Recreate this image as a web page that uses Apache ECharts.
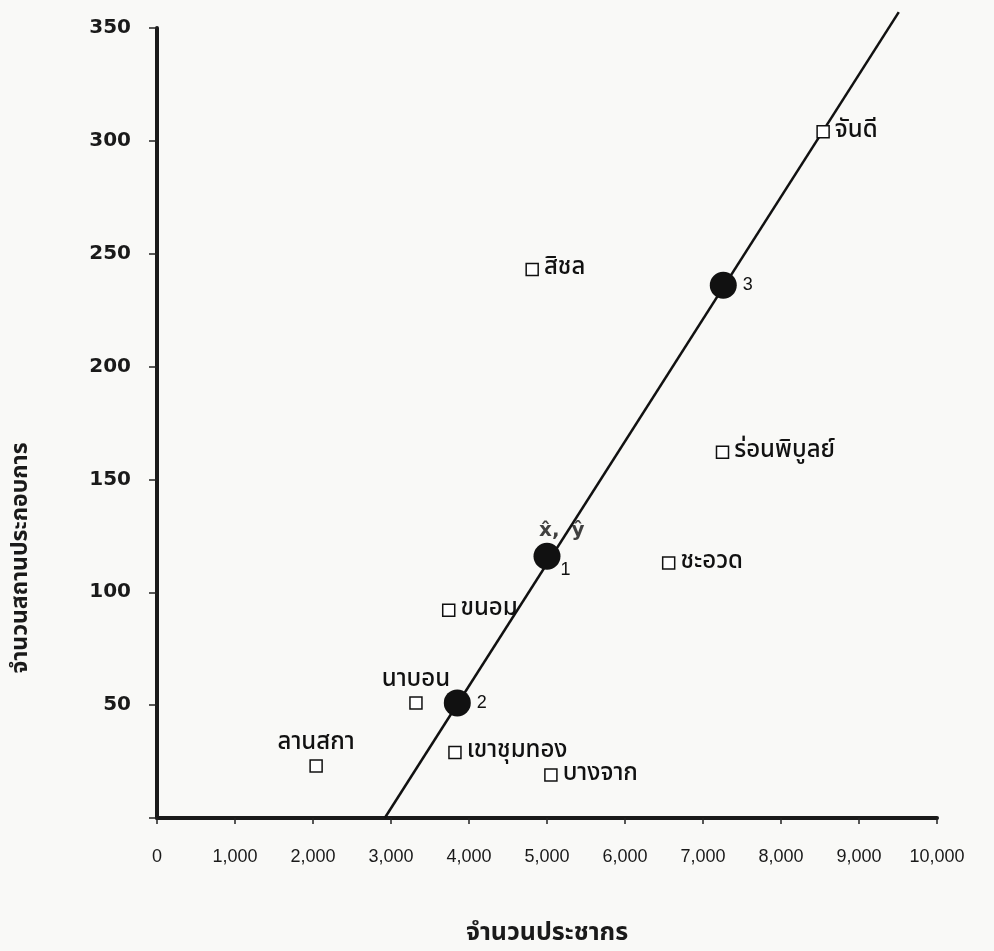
<!DOCTYPE html>
<html>
<head>
<meta charset="utf-8">
<script src="https://cdn.jsdelivr.net/npm/echarts@6/dist/echarts.min.js"></script>
<style>
html,body{margin:0;padding:0;background:#f9f9f7;}
#c{width:994px;height:951px;}
</style>
</head>
<body>
<div id="c"></div>
<script>
// Observed districts: population (x) vs number of establishments (y)
const districtNames = ['ลานสกา','นาบอน','เขาชุมทอง','ขนอม','บางจาก','สิชล','ชะอวด','ร่อนพิบูลย์','จันดี'];
const districtPop   = [2040, 3320, 3820, 3740, 5050, 4810, 6560, 7250, 8540];
const districtEst   = [23, 51, 29, 92, 19, 243, 113, 162, 304];
const labelPos      = ['top','top','right','right','right','right','right','right','right'];

// Fitted points on the line
const fitNames = ['1','2','3'];
const fitPop   = [5000, 3850, 7260];
const fitEst   = [116, 51, 236];

// Regression line end points
const linePop = [2920, 9510];
const lineEst = [0, 357];

// Axis ticks
const xTicks = [0,1000,2000,3000,4000,5000,6000,7000,8000,9000,10000];
const yTicks = [0,50,100,150,200,250,300,350];

const thai = '"Noto Sans Thai","Noto Sans Thai Looped","Noto Sans","DejaVu Sans",sans-serif';

const chart = echarts.init(document.getElementById('c'), null, {renderer:'canvas'});

const squareData = districtNames.map((n,i)=>({
  name:n, value:[districtPop[i], districtEst[i]],
  label:{position:labelPos[i], distance: labelPos[i]==='top'?3:5}
}));
const circleData = fitNames.map((n,i)=>({
  name:n, value:[fitPop[i], fitEst[i]],
  label:{
    position: n==='1' ? [27,18] : 'right',
    distance: 6
  }
}));

chart.setOption({
  animation:false,
  backgroundColor:'#f9f9f7',
  grid:{left:157, right:57, top:28, bottom:133, containLabel:false, outerBoundsMode:'none'},
  xAxis:{
    type:'value', min:0, max:10000, interval:1000,
    name:'จำนวนประชากร', nameLocation:'middle', nameGap:104,
    nameTextStyle:{fontFamily:thai, fontSize:25, fontWeight:'bold', color:'#1a1a1a'},
    axisLine:{show:true, onZero:false, lineStyle:{color:'#1a1a1a', width:4}},
    axisTick:{show:true, inside:false, length:6, lineStyle:{color:'#222', width:1.5}},
    axisLabel:{margin:30, fontFamily:'"Liberation Sans",Arial,sans-serif', fontSize:18, color:'#1a1a1a',
      formatter:v=>v.toLocaleString('en-US')},
    splitLine:{show:false}
  },
  yAxis:{
    type:'value', min:0, max:350, interval:50,
    axisLine:{show:true, onZero:false, lineStyle:{color:'#1a1a1a', width:4}},
    axisTick:{show:true, length:8, lineStyle:{color:'#222', width:1.5}},
    axisLabel:{margin:26, fontFamily:'"DejaVu Sans",sans-serif', fontWeight:'bold', fontSize:20, color:'#1a1a1a',
      formatter:v=> v===0 ? '' : String(v)},
    splitLine:{show:false}
  },
  graphic:[{
    type:'text', x:22, y:558, rotation:Math.PI/2,
    style:{text:'จำนวนสถานประกอบการ', fontFamily:thai, fontSize:23, fontWeight:'bold', fill:'#1a1a1a',
      align:'center', verticalAlign:'middle'}
  }],
  series:[
    {
      type:'line', data: linePop.map((x,i)=>[x,lineEst[i]]), clip:false,
      showSymbol:false, symbol:'none',
      lineStyle:{color:'#111', width:2.5}, z:2
    },
    {
      type:'scatter', data: squareData, symbol:'rect', symbolSize:12,
      itemStyle:{color:'#ffffff', borderColor:'#111', borderWidth:1.5, opacity:1},
      label:{show:true, formatter:'{b}', fontFamily:thai, fontSize:24, fontWeight:500, color:'#111'},
      z:3
    },
    {
      type:'scatter', data: circleData, symbol:'circle', symbolSize:27,
      itemStyle:{color:'#111', opacity:1},
      label:{show:true, formatter:'{b}', fontFamily:'"Liberation Sans",Arial,sans-serif', fontSize:18, color:'#111'},
      z:4
    },
    {
      type:'scatter', data:[{name:'hat', value:[fitPop[0], fitEst[0]]}], symbolSize:0,
      itemStyle:{color:'transparent'},
      label:{show:true, position:[-8,-35],
        formatter:'{a|x̂,}{s|}{a|ŷ}',
        rich:{a:{fontFamily:'"DejaVu Sans",sans-serif', fontSize:20, fontWeight:'bold', color:'#111'}, s:{width:12}}
      },
      z:5
    }
  ]
});
</script>
</body>
</html>
